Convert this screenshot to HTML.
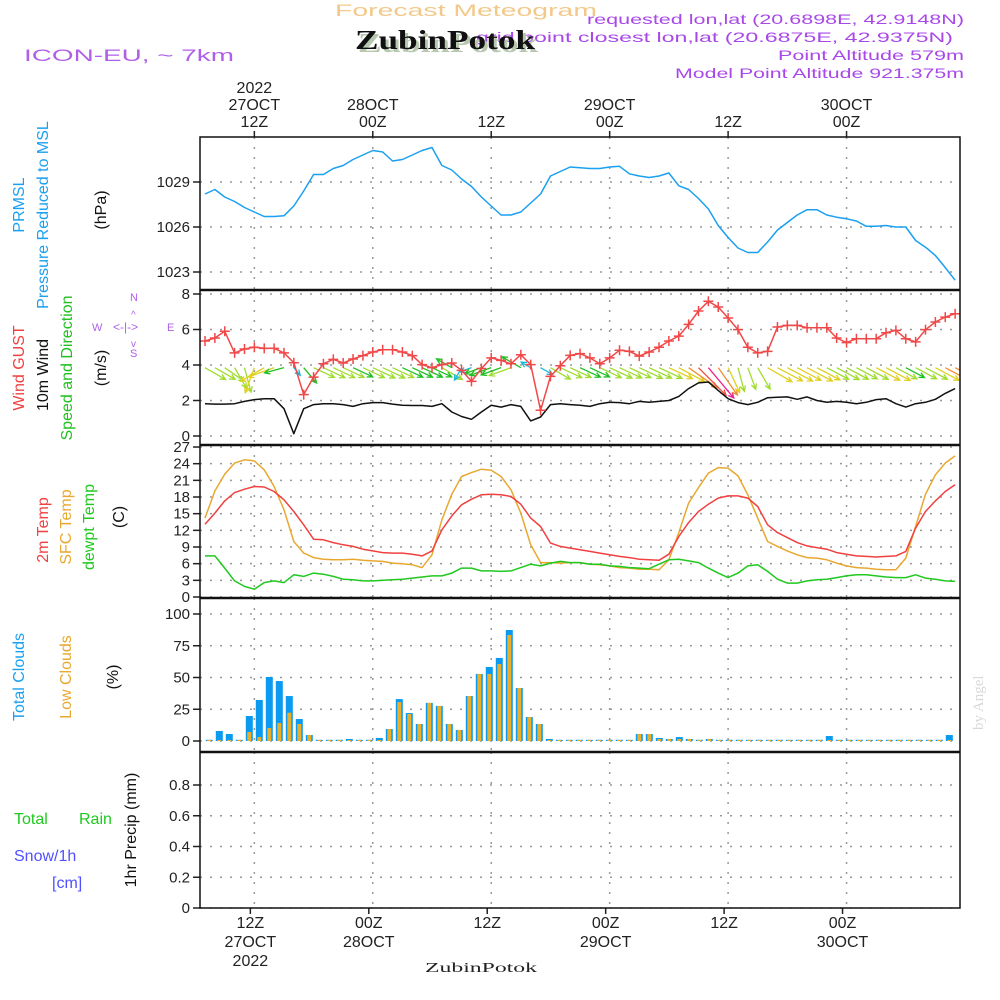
<!DOCTYPE html>
<html><head><meta charset="utf-8"><style>
html,body{margin:0;padding:0;background:#fff;}
svg{display:block;font-family:"Liberation Sans",sans-serif;}
</style></head><body>
<svg id="chart" width="1000" height="1000" viewBox="0 0 1000 1000" xmlns="http://www.w3.org/2000/svg">
<defs><clipPath id="plotclip"><rect x="200" y="137" width="760" height="771"/></clipPath></defs>
<rect x="0" y="0" width="1000" height="1000" fill="#fff"/>
<text x="335" y="16" font-size="17" fill="#f2c98a" textLength="262" lengthAdjust="spacingAndGlyphs">Forecast Meteogram</text>
<text x="24" y="61" font-size="17" fill="#b060e8" textLength="210" lengthAdjust="spacingAndGlyphs">ICON-EU, ~ 7km</text>
<text x="587" y="24" font-size="14" fill="#a848e8" textLength="377" lengthAdjust="spacingAndGlyphs">requested lon,lat (20.6898E, 42.9148N)</text>
<text x="476" y="42" font-size="14" fill="#a848e8" textLength="477" lengthAdjust="spacingAndGlyphs">grid point closest lon,lat (20.6875E, 42.9375N)</text>
<text x="778" y="60" font-size="14" fill="#a848e8" textLength="186" lengthAdjust="spacingAndGlyphs">Point Altitude 579m</text>
<text x="675" y="78" font-size="14" fill="#a848e8" textLength="289" lengthAdjust="spacingAndGlyphs">Model Point Altitude 921.375m</text>
<text x="358" y="52" font-size="27" font-weight="bold" fill="#b8c8b0" font-family="Liberation Serif,serif" textLength="180" lengthAdjust="spacingAndGlyphs">ZubinPotok</text>
<text x="355" y="49" font-size="27" font-weight="bold" fill="#111" font-family="Liberation Serif,serif" textLength="180" lengthAdjust="spacingAndGlyphs">ZubinPotok</text>
<text x="425" y="972" font-size="14" fill="#222" font-family="Liberation Serif,serif" textLength="112" lengthAdjust="spacingAndGlyphs">ZubinPotok</text>
<text transform="translate(983,730) rotate(-90)" font-size="15" fill="#d8d8d8" font-family="Liberation Serif,serif">by Angel</text>
<g id="plot"></g>
</svg>
<script>
// ===== Data (hourly from 27 OCT 07Z) =====
const pressure = [1028.2,1028.5,1028.0,1027.7,1027.3,1027.0,1026.7,1026.7,1026.75,1027.4,1028.4,1029.5,1029.5,1029.9,1030.1,1030.5,1030.8,1031.1,1031.0,1030.4,1030.5,1030.8,1031.1,1031.3,1030.1,1029.8,1029.2,1028.7,1028.0,1027.4,1026.8,1026.8,1027.0,1027.6,1028.2,1029.4,1029.7,1030.0,1029.95,1029.9,1029.9,1030.0,1030.05,1029.55,1029.4,1029.3,1029.4,1029.6,1028.75,1028.5,1027.9,1027.2,1026.1,1025.3,1024.6,1024.3,1024.3,1025.0,1025.8,1026.3,1026.8,1027.15,1027.15,1026.8,1026.65,1026.55,1026.4,1026.05,1026.05,1026.1,1026.0,1026.0,1025.1,1024.65,1024.1,1023.3,1022.45];
const wind10m = [1.82,1.8,1.8,1.82,1.95,2.05,2.1,2.1,1.54,0.13,1.54,1.77,1.82,1.82,1.77,1.67,1.82,1.88,1.88,1.8,1.73,1.72,1.72,1.67,1.82,1.35,1.1,0.94,1.35,1.73,1.63,1.77,1.67,0.85,1.07,1.77,1.82,1.77,1.73,1.67,1.82,1.9,1.88,1.82,1.95,1.9,1.95,2.0,2.23,2.67,2.99,3.04,2.57,2.1,1.88,1.77,1.9,2.16,2.18,2.2,2.07,2.2,2.0,1.9,1.95,1.9,1.82,1.9,2.05,2.1,1.82,1.63,1.82,1.9,2.07,2.4,2.67];
const windGust = [5.35,5.52,5.9,4.68,4.9,5.0,4.94,4.94,4.68,4.13,2.33,3.32,4.07,4.32,4.11,4.34,4.53,4.73,4.86,4.86,4.73,4.53,4.02,3.85,4.02,4.11,3.7,3.08,3.8,4.4,4.26,4.07,4.58,4.02,1.45,3.36,3.96,4.54,4.64,4.4,4.07,4.4,4.83,4.77,4.5,4.73,5.0,5.35,5.63,6.29,7.04,7.59,7.27,6.65,5.99,5.0,4.68,4.77,6.14,6.23,6.23,6.1,6.1,6.1,5.52,5.26,5.48,5.48,5.48,5.82,5.95,5.48,5.3,5.99,6.42,6.7,6.89];
const windDirTo = [120,120,125,150,165,200,240,250,255,140,140,115,115,115,115,115,115,115,115,115,115,115,115,115,120,300,210,250,250,250,250,250,300,300,120,120,115,115,115,115,115,115,115,115,115,115,115,115,118,125,135,140,145,155,165,160,150,120,118,118,118,118,118,118,118,118,118,118,118,118,118,118,118,118,118,118,118];
const temp2m = [13.1,15.1,17.3,18.8,19.4,19.9,19.8,19.0,17.5,15.4,13.0,10.4,10.3,9.8,9.4,9.1,8.6,8.3,8.0,7.9,7.9,7.7,7.4,8.3,12.1,14.6,16.6,17.6,18.4,18.5,18.4,18.1,16.7,14.2,12.7,9.7,9.1,8.8,8.5,8.2,7.9,7.6,7.3,7.1,6.8,6.7,6.6,7.7,10.9,13.4,15.4,16.7,17.8,18.2,18.2,17.8,16.3,13.0,11.6,10.7,9.8,9.2,8.9,8.6,8.0,7.7,7.4,7.3,7.2,7.3,7.4,8.2,12.4,15.4,17.3,19.0,20.2];
const tempSfc = [14.2,19.1,22.1,24.1,24.7,24.5,22.9,19.9,15.7,10.0,7.9,7.1,6.8,6.7,6.7,6.8,6.6,6.5,6.4,6.1,6.0,5.8,5.3,7.6,13.9,18.5,21.7,22.4,23.0,22.8,21.7,19.3,15.1,9.4,6.2,6.2,6.1,6.2,6.2,5.9,5.8,5.6,5.3,5.2,5.0,5.0,4.9,6.7,11.6,16.9,19.7,22.3,23.3,23.2,21.8,18.4,14.2,10.0,9.1,8.3,7.6,7.1,7.0,6.7,6.1,5.6,5.3,5.2,5.0,4.9,4.9,7.0,12.7,18.5,22.0,24.1,25.4];
const dewpt = [7.4,7.4,5.2,2.9,1.9,1.4,2.6,2.9,2.6,4.0,3.7,4.3,4.1,3.7,3.2,3.1,2.9,2.9,3.0,3.1,3.2,3.4,3.6,3.8,3.8,4.3,5.2,5.2,4.7,4.7,4.6,4.7,5.3,5.9,5.6,6.1,6.4,6.2,6.2,5.9,5.9,5.6,5.5,5.3,5.2,5.1,5.9,6.7,6.8,6.5,6.2,5.2,4.3,3.5,4.3,5.6,5.8,4.6,3.2,2.5,2.5,2.9,3.1,3.2,3.5,3.8,4.0,4.0,3.8,3.6,3.5,3.5,4.0,3.4,3.2,2.9,2.8];
const totalClouds = [0,7.9,5.5,0,19.7,32.3,50.4,47.2,35.4,17.3,4.7,0,0,0,1.6,0,0,2.4,9.4,33,22,13.4,30,27.6,13.4,8.7,35.4,52.8,58.3,65.4,87.4,41.7,18.9,13.4,1.6,0,0,0,0,0,0,0,0,5.5,5.5,2.4,1.6,3.1,1.6,0,1.6,0,0,0,0,0,0,0,0,0,0,0,3.9,0,0,0,0,0,0,0,0,0,0,0.8,4.7];
const lowClouds = [0,0.8,0.8,0,7.1,3.1,10.2,14.2,22.3,13.4,4.7,0,0,0,0,0,0,0,9.4,30.7,21.3,13.4,30,27.6,13.4,8.7,35.4,52.8,52.8,60.6,83.5,41.7,18.9,13.4,0.8,0,0,0,0,0,0,0,0,5.5,5.5,1.6,1.6,1.6,1.6,0,1.6,0,0,0,0,0,0,0,0,0,0,0,0,0,0,0,0,0,0,0,0,0,0,0,0];
const precip = new Array(77).fill(0);
const pressureTicks = [1023,1026,1029];
const windTicks = [0,2,4,6,8];
const tempTicks = [0,3,6,9,12,15,18,21,24,27];
const cloudTicks = [0,25,50,75,100];
const precipTicks = [0,0.2,0.4,0.6,0.8];
const timeTickHours = [5,17,29,41,53,65];
const topTimeLabels = [["2022","27OCT","12Z"],["28OCT","00Z"],["12Z"],["29OCT","00Z"],["12Z"],["30OCT","00Z"]];
const bottomTimeLabels = [["12Z","27OCT","2022"],["00Z","28OCT"],["12Z"],["00Z","29OCT"],["12Z"],["00Z","30OCT"]];

// ===== Axes =====
const NS='http://www.w3.org/2000/svg';
const X0=205, DX=9.87;
const xh = h => X0 + DX*h;
const xBar = k => 209.3 + 10*k;
const yP = v => 182 - (v-1029)*15;
const yW = v => 436 - v*17.75;
const yT = v => 597 - v*5.555;
const yC = v => 741 - v*1.27;
const yR = v => 908 - v*153.75;
const L=200, R=960;
const plot=document.getElementById('plot');
function mk(tag, attrs, parent){const e=document.createElementNS(NS,tag);for(const k in attrs)e.setAttribute(k,attrs[k]);(parent||plot).appendChild(e);return e;}

const panels=[[137,290],[290,445],[445,598],[598,752],[752,908]];
panels.forEach((p,pi)=>{
  timeTickHours.forEach(h=>{
    const g=mk('line',{x1:xh(h),x2:xh(h),y1:p[0],y2:p[1],stroke:'#999','stroke-width':1.5,'stroke-dasharray':'2,8'});
    
    
  });
});
function hgrid(ticks, yf, fmt, name){
  ticks.forEach(t=>{
    const y=yf(t);
    const g=mk('line',{x1:L,x2:R,y1:y,y2:y,stroke:'#999','stroke-width':1.5,'stroke-dasharray':'2,8'});
    
    
    const tk=mk('line',{x1:L-7,x2:L,y1:y,y2:y,stroke:'#222','stroke-width':1.5});
    
    
    const tx=mk('text',{x:L-10,y:y+5,'font-size':15,'text-anchor':'end',fill:'#222'});
    tx.textContent=fmt(t);
    
    
  });
}
hgrid(pressureTicks,yP,t=>String(t),'pressure-axis');
hgrid(windTicks,yW,t=>String(t),'wind-axis');
hgrid(tempTicks,yT,t=>String(t),'temp-axis');
hgrid(cloudTicks,yC,t=>String(t),'cloud-axis');
hgrid(precipTicks,yR,t=>t===0?'0':t.toFixed(1),'precip-axis');

timeTickHours.forEach((h,i)=>{
  const x=xh(h);
  const t1=mk('line',{x1:x,x2:x,y1:131,y2:137,stroke:'#222','stroke-width':1.5});
  
  
  const lines=topTimeLabels[i];
  lines.forEach((s,j)=>{
    const tx=mk('text',{x:x,y:127-(lines.length-1-j)*17,'font-size':16,'text-anchor':'middle',fill:'#222'});
    tx.textContent=s;
    
    
  });
  const xb=x-4;
  const t2=mk('line',{x1:xb,x2:xb,y1:908,y2:914,stroke:'#222','stroke-width':1.5});
  
  
  bottomTimeLabels[i].forEach((s,j)=>{
    const tx=mk('text',{x:xb,y:928+j*19,'font-size':16,'text-anchor':'middle',fill:'#222'});
    tx.textContent=s;
    
    
  });
});

// ===== Series =====
const clipG=mk('g',{'clip-path':'url(#plotclip)'});


function line(data, yf, color, name, w){
  const d=data.map((v,i)=>(i?'L':'M')+xh(i).toFixed(1)+','+yf(v).toFixed(1)).join('');
  const p=mk('path',{d:d,fill:'none',stroke:color,'stroke-width':w||1.5,'stroke-linejoin':'round'},clipG);
  
  
  return p;
}
line(pressure,yP,'#1aa0f0','pressure-line');
totalClouds.forEach((v,k)=>{
  const h=Math.max(v*1.27,1.2);
  const b=mk('rect',{x:xBar(k)-3.5,y:741-h,width:7,height:h,fill:'#0a9af0'},clipG);
  
  
});
lowClouds.forEach((v,k)=>{
  const h=Math.max(v*1.27,1);
  const b=mk('rect',{x:xBar(k)-2,y:741-h,width:4,height:h,fill:'#e8ae2c'},clipG);
  
  
});
precip.forEach((v,i)=>{
  if(v>0){const b=mk('rect',{x:xh(i)-3,y:yR(v),width:6,height:908-yR(v),fill:'#30c030'},clipG);
  
  }
});
line(tempSfc,yT,'#e8a830','sfc-temp-line');
line(temp2m,yT,'#f04040','temp-2m-line');
line(dewpt,yT,'#20c820','dewpoint-line');
function arrowColor(v){
  if(v<1.2) return '#20b8d8';
  if(v<1.75) return '#20c020';
  if(v<2.0) return '#a0dc30';
  if(v<2.3) return '#e0d020';
  if(v<2.8) return '#f09030';
  if(v<3.0) return '#f05040';
  return '#f02090';
}
windDirTo.forEach((b,i)=>{
  const v=wind10m[i];
  const len=Math.max(10,13*v);
  const rad=b*Math.PI/180;
  const x1=xh(i), y1=yW(3.85);
  const dx=Math.sin(rad), dy=-Math.cos(rad);
  const x2=x1+dx*len, y2=y1+dy*len;
  const col=arrowColor(v);
  const a=0.45;
  const ang=Math.atan2(dy,dx);
  const h1x=x2-6*Math.cos(ang-a), h1y=y2-6*Math.sin(ang-a);
  const h2x=x2-6*Math.cos(ang+a), h2y=y2-6*Math.sin(ang+a);
  const p=mk('path',{d:`M${x1},${y1}L${x2},${y2}M${h1x},${h1y}L${x2},${y2}L${h2x},${h2y}`,fill:'none',stroke:col,'stroke-width':1.3},clipG);
  
  
});
line(wind10m,yW,'#111','wind-speed-line');
line(windGust,yW,'#f04848','wind-gust-line');
windGust.forEach((v,i)=>{
  const x=xh(i), y=yW(v);
  const c=mk('path',{d:`M${x-5},${y}L${x+5},${y}M${x},${y-5}L${x},${y+5}`,stroke:'#f04848','stroke-width':1.5},clipG);
  
  
});

const fr=mk('rect',{x:L,y:137,width:R-L,height:771,fill:'none',stroke:'#111','stroke-width':1.5});


[290,445,598,752].forEach(y=>{
  const s=mk('line',{x1:L,x2:R,y1:y,y2:y,stroke:'#111','stroke-width':2.5});
  
  
});

function vtext(x,y,s,color,name,size){
  const t=mk('text',{transform:`translate(${x},${y}) rotate(-90)`,'font-size':size||16,'text-anchor':'middle',fill:color});
  t.textContent=s;
  
  
}
function htext(x,y,s,color,name,size){
  const t=mk('text',{x:x,y:y,'font-size':size||15,fill:color});
  t.textContent=s;
  
  
}
vtext(24,205,'PRMSL','#1aa0f0','prmsl-label');
vtext(48,215,'Pressure Reduced to MSL','#1aa0f0','pressure-title');
vtext(106,210,'(hPa)','#111','pressure-unit');
vtext(24,368,'Wind GUST','#f04040','wind-gust-title');
vtext(48,375,'10m Wind','#111','wind-title');
vtext(72,368,'Speed and Direction','#20c020','wind-speed-direction-title');
vtext(106,368,'(m/s)','#111','wind-unit');
htext(130,301,'N','#b060e8','compass-n',11);
htext(130,357,'S','#b060e8','compass-s',11);
htext(92,331,'W','#b060e8','compass-w',11);
htext(167,331,'E','#b060e8','compass-e',11);
htext(113,331,'<-|->','#b060e8','compass-arrows',12);
htext(131,318,'^','#b060e8','compass-up',10);
htext(131,347,'v','#b060e8','compass-down',10);
vtext(48,530,'2m Temp','#f04040','temp-2m-title');
vtext(71,527,'SFC Temp','#e8a830','sfc-temp-title');
vtext(94,527,'dewpt Temp','#20c820','dewpoint-title');
vtext(124,517,'(C)','#111','temp-unit');
vtext(24,677,'Total Clouds','#1aa0f0','total-clouds-title');
vtext(71,677,'Low Clouds','#e8a830','low-clouds-title');
vtext(118,677,'(%)','#111','cloud-unit');
htext(14,824,'Total','#20c820','total-precip-title',16);
htext(79,824,'Rain','#20c820','rain-title',16);
htext(14,861,'Snow/1h','#5050ff','snow-title',16);
htext(52,888,'[cm]','#5050ff','snow-unit',16);
vtext(136,830,'1hr Precip (mm)','#111','precip-title');
</script>
</body></html>
